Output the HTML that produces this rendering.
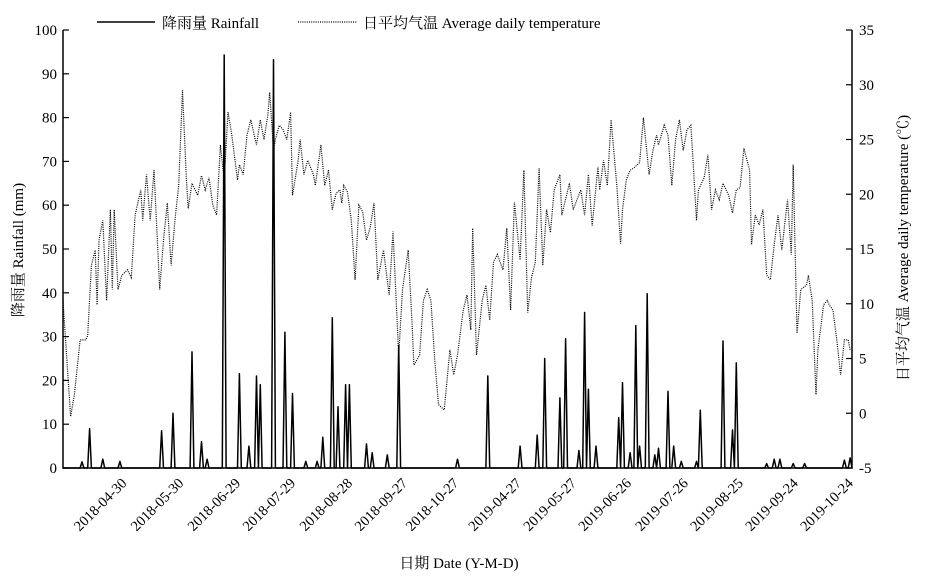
<!DOCTYPE html>
<html><head><meta charset="utf-8"><style>
body{margin:0;background:#fff}
svg{display:block;font-family:"Liberation Serif","Noto Serif CJK SC","Noto Sans CJK SC",serif}
</style></head><body>
<svg id="chart" width="932" height="585" viewBox="0 0 932 585">
<g id="legend">
 <line x1="97" y1="22" x2="155" y2="22" stroke="#000" stroke-width="1.5"/>
 <text x="162" y="28" font-size="15">降雨量 Rainfall</text>
 <line x1="298" y1="22" x2="357" y2="22" stroke="#000" stroke-width="1.2" stroke-dasharray="1,1.2"/>
 <text x="363" y="28" font-size="15">日平均气温 Average daily temperature</text>
</g>
<g id="axes"></g>
<g id="marks"></g>
<text x="459" y="568" font-size="15" text-anchor="middle">日期 Date (Y-M-D)</text>
<text transform="translate(23,250) rotate(-90)" font-size="15" text-anchor="middle">降雨量 Rainfall (mm)</text>
<text transform="translate(908,248) rotate(-90)" font-size="15" text-anchor="middle">日平均气温 Average daily temperature (℃)</text>
</svg>
<script>
const rainTicks=[0,10,20,30,40,50,60,70,80,90,100];
const tempTicks=[-5,0,5,10,15,20,25,30,35];
const dateLabels=["2018-04-30","2018-05-30","2018-06-29","2018-07-29","2018-08-28","2018-09-27","2018-10-27","2019-04-27","2019-05-27","2019-06-26","2019-07-26","2019-08-25","2019-09-24","2019-10-24"];
const dateLabelDays=[34,64,94,123,153,182,209,242,271,300,330,359,388,417];
const rainDays=[10,14,21,30,52,58,68,73,76,85,93,98,102,104,111,117,121,128,134,137,142,145,149,151,160,163,171,177,208,224,241,250,254,262,265,272,275,277,281,293,295,299,302,304,308,312,314,319,322,326,334,336,348,353,355,371,375,378,385,391,412,415];
const rainVals=[1.4,9,2,1.5,8.5,12.5,26.5,6,2,94.3,21.5,5,21,19,93.2,31,17,1.5,1.5,7,34.3,14,19,19,5.5,3.5,3,28,2,21,5,7.5,25,16,29.5,4,35.5,18,5,11.5,19.5,3.5,32.5,5,39.8,3,4.5,17.5,5,1.5,1.5,13.2,29,8.7,24,1,2,2,1,1,1.8,2.3];
const tempDays=[0,4,6,9,12,13,15,17,18,19,21,23,25,26,27,29,31,34,36,38,41,42,44,46,48,51,53,55,57,59,61,63,65,66,68,71,73,75,77,79,81,83,85,87,89,92,93,95,97,99,102,104,106,108,109,111,112,114,116,118,120,121,124,125,127,129,132,133,136,138,140,142,144,146,147,148,150,152,154,156,158,160,162,164,166,169,170,172,174,177,179,182,184,185,188,190,192,194,196,198,201,204,206,208,211,213,215,216,218,221,223,225,227,229,232,234,236,238,241,243,245,247,249,251,253,255,257,259,262,263,267,269,273,275,277,279,282,283,285,287,289,292,294,295,297,299,301,304,306,309,311,313,314,317,319,321,323,325,327,329,331,332,334,335,338,340,342,344,346,348,351,353,355,357,359,362,363,365,367,369,371,373,375,377,379,382,384,385,387,389,392,393,395,397,398,401,403,404,406,408,410,412,414,415];
const tempVals=[10.3,-0.3,1.7,6.7,6.7,7.1,13.5,14.9,9.9,15.8,17.6,10.3,18.6,11.3,18.6,11.3,12.6,13.1,12.4,18.1,20.4,17.6,21.8,17.6,22.2,11.3,15.8,19.2,13.5,17.6,20.8,29.5,21.5,18.7,21.0,19.9,21.7,20.4,21.5,19.0,18.1,24.5,21.3,27.5,25.4,21.3,22.7,21.8,25.4,26.8,24.5,26.8,25.0,27.2,29.3,24.0,25.0,26.3,25.9,25.0,27.5,19.9,23.1,25.0,21.8,23.1,21.8,20.8,24.5,20.8,22.2,18.6,20.1,20.4,19.2,20.8,20.2,17.6,12.2,19.0,18.4,15.8,17.0,19.2,12.2,14.9,13.5,10.8,16.6,5.3,11.3,14.9,8.3,4.4,5.3,10.3,11.3,10.3,4.9,0.8,0.3,5.8,3.5,5.3,9.4,10.8,7.6,16.9,5.3,10.3,11.7,8.5,13.8,14.5,13.1,16.9,9.4,19.3,14.0,22.2,9.2,12.4,13.8,22.4,13.5,18.6,16.5,20.4,21.8,18.1,21.0,18.6,20.4,18.1,21.8,17.1,22.5,20.4,23.1,20.8,26.8,20.8,15.5,18.6,21.3,22.2,22.4,22.9,27.0,21.8,24.0,25.4,24.5,26.3,25.4,20.8,25.0,26.8,24.0,25.9,26.3,23.6,17.6,20.4,21.5,23.6,18.6,20.4,19.5,21.0,19.9,18.3,20.4,20.6,24.2,22.2,15.4,18.1,17.2,18.6,12.6,12.2,15.4,18.1,14.9,19.5,14.5,22.7,7.3,11.3,11.7,12.6,10.3,1.7,5.8,9.9,10.3,9.9,9.4,6.7,3.5,6.7,6.7,5.8];

const L=63,R=852,T=30,B=468,D0=0,D1=416;
const xS=d=>L+(d-D0)/(D1-D0)*(R-L);
const yRain=v=>B-v/100*(B-T);
const yTemp=v=>B-(v+5)/40*(B-T);
const NS="http://www.w3.org/2000/svg";
const axes=document.getElementById('axes'),marks=document.getElementById('marks');
function mk(tag,attrs,parent){const e=document.createElementNS(NS,tag);for(const k in attrs)e.setAttribute(k,attrs[k]);parent.appendChild(e);return e;}

let a=mk('path',{d:`M${L},${T}V${B}H${R}V${T}`,fill:'none',stroke:'#000','stroke-width':1.5},axes);


rainTicks.forEach(v=>{
 const y=yRain(v);
 const t=mk('line',{x1:L,x2:L+6,y1:y,y2:y,stroke:'#000','stroke-width':1.2},axes);
 
 
 const tx=mk('text',{x:L-6,y:y+5,'font-size':15,'text-anchor':'end'},axes);
 tx.textContent=v;
 
 
});
tempTicks.forEach(v=>{
 const y=yTemp(v);
 const t=mk('line',{x1:R-6,x2:R,y1:y,y2:y,stroke:'#000','stroke-width':1.2},axes);
 
 
 const tx=mk('text',{x:R+7,y:y+5,'font-size':15},axes);
 tx.textContent=v;
 
 
});
dateLabels.forEach((s,i)=>{
 const x=xS(dateLabelDays[i]);
 const tx=mk('text',{transform:`translate(${x},484) rotate(-45)`,'font-size':14.5,'text-anchor':'end'},axes);
 tx.textContent=s;
 
 
});

let tp=tempDays.map((d,i)=>`${i?'L':'M'}${xS(d).toFixed(1)},${yTemp(tempVals[i]).toFixed(1)}`).join('');
const tl=mk('path',{d:tp,fill:'none',stroke:'#000','stroke-width':1.2,'stroke-dasharray':'1,1.2'},marks);



const daily=new Array(D1+1).fill(0);
rainDays.forEach((d,i)=>{daily[d]=rainVals[i];});
let rp=daily.map((v,d)=>`${d?'L':'M'}${xS(d).toFixed(1)},${yRain(v).toFixed(1)}`).join('');
const rl=mk('path',{d:rp,fill:'none',stroke:'#000','stroke-width':1.5,'stroke-linejoin':'round'},marks);


</script>
</body></html>
